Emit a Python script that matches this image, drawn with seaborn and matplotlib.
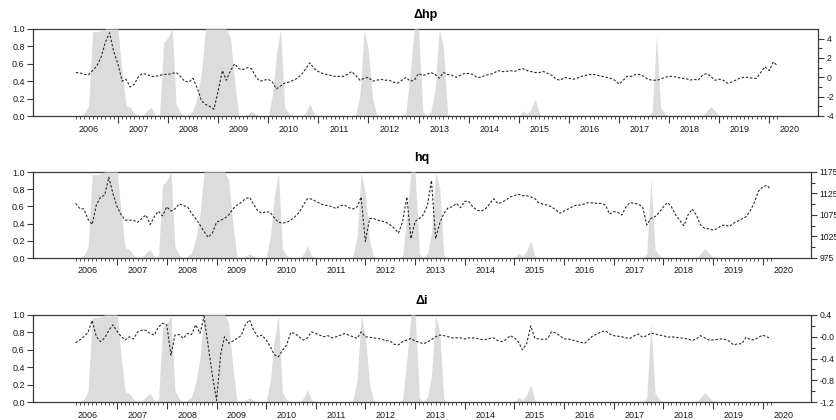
import matplotlib

matplotlib.use("Agg")

import matplotlib.dates as mdates
import matplotlib.pyplot as plt
import numpy as np
import pandas as pd
import seaborn as sns

# monthly sample, 2006M03 - 2020M03
dates = pd.date_range("2006-03-01", "2020-03-01", freq="MS")

# smoothed regime probability (grey area, left axis)
regime_prob = [
    0.0, 0.0, 0.03, 0.12, 0.97, 0.97, 0.98, 1.0, 1.0, 1.0, 1.0, 0.5,
    0.12, 0.1, 0.03, 0.01, 0.01, 0.06, 0.1, 0.01, 0.02, 0.85, 0.9, 1.0,
    0.13, 0.04, 0.0, 0.02, 0.06, 0.22, 0.5, 1.0, 1.0, 1.0, 1.0, 1.0,
    1.0, 0.9, 0.4, 0.0, 0.0, 0.02, 0.05, 0.02, 0.0, 0.0, 0.0, 0.25,
    0.7, 1.0, 0.1, 0.03, 0.0, 0.0, 0.0, 0.04, 0.14, 0.02, 0.0, 0.0,
    0.0, 0.0, 0.0, 0.0, 0.0, 0.0, 0.0, 0.02, 0.25, 1.0, 0.75, 0.2,
    0.02, 0.0, 0.0, 0.0, 0.0, 0.0, 0.0, 0.03, 0.5, 1.0, 1.0, 0.05,
    0.01, 0.05, 0.3, 1.0, 0.8, 0.02, 0.0, 0.0, 0.0, 0.0, 0.0, 0.0,
    0.0, 0.0, 0.0, 0.0, 0.0, 0.0, 0.0, 0.0, 0.0, 0.0, 0.0, 0.06,
    0.02, 0.08, 0.2, 0.02, 0.0, 0.0, 0.0, 0.0, 0.0, 0.0, 0.0, 0.0,
    0.0, 0.0, 0.0, 0.0, 0.0, 0.0, 0.0, 0.0, 0.0, 0.0, 0.0, 0.0,
    0.0, 0.0, 0.0, 0.0, 0.0, 0.0, 0.05, 0.92, 0.1, 0.03, 0.0, 0.0,
    0.0, 0.0, 0.0, 0.0, 0.0, 0.0, 0.0, 0.05, 0.11, 0.06, 0.01, 0.0,
    0.0, 0.0, 0.0, 0.0, 0.0, 0.0, 0.0, 0.0, 0.01, 0.0, 0.0, 0.0,
    0.0,
]

d_hp = [
    0.5, 0.45, 0.3, 0.27, 0.7, 1.2, 2.1, 3.6, 4.6, 2.7, 1.4, -0.4,
    -0.2, -1.0, -0.7, 0.1, 0.4, 0.3, 0.1, 0.1, 0.2, 0.3, 0.3, 0.4,
    0.5, 0.1, -0.4, -0.5, -0.1, -1.1, -2.4, -2.8, -3.0, -3.3, -1.4, 0.7,
    -0.3, 0.7, 1.4, 0.9, 0.8, 1.0, 0.9, 0.1, -0.4, -0.3, -0.2, -0.5,
    -1.2, -0.9, -0.6, -0.5, -0.3, -0.1, 0.3, 0.9, 1.5, 0.9, 0.6, 0.4,
    0.3, 0.2, 0.1, 0.1, 0.1, 0.3, 0.6, 0.2, -0.3, -0.1, 0.0, -0.4,
    -0.3, -0.2, -0.3, -0.3, -0.5, -0.6, -0.3, 0.0, -0.4, -0.3, 0.4, 0.2,
    0.3, 0.5, 0.3, -0.1, 0.5, 0.3, 0.2, 0.0, 0.2, 0.4, 0.4, 0.3,
    0.0, 0.0, 0.2, 0.3, 0.4, 0.7, 0.6, 0.6, 0.7, 0.6, 0.8, 0.9,
    0.7, 0.6, 0.5, 0.5, 0.6, 0.4, 0.2, -0.2, -0.3, 0.0, -0.1, -0.2,
    -0.1, 0.1, 0.2, 0.3, 0.3, 0.2, 0.1, 0.0, -0.1, -0.3, -0.7, -0.3,
    0.1, 0.1, 0.3, 0.3, 0.1, -0.2, -0.3, -0.3, -0.2, 0.0, 0.1, 0.1,
    0.0, -0.1, -0.1, -0.3, -0.2, -0.3, 0.2, 0.4, 0.1, -0.3, -0.2, -0.3,
    -0.6, -0.5, -0.3, -0.1, 0.0, 0.0, -0.1, -0.1, 0.5, 1.1, 0.7, 1.6,
    1.2,
]

hq = [
    1102, 1090, 1089, 1065, 1053, 1098, 1117, 1121, 1163, 1125, 1094, 1075,
    1063, 1063, 1063, 1058, 1067, 1075, 1053, 1071, 1084, 1073, 1094, 1084,
    1089, 1101, 1097, 1094, 1079, 1067, 1052, 1037, 1023, 1033, 1058, 1063,
    1067, 1075, 1089, 1098, 1104, 1113, 1116, 1100, 1084, 1079, 1083, 1081,
    1069, 1058, 1056, 1058, 1063, 1071, 1081, 1098, 1113, 1112, 1107, 1102,
    1098, 1097, 1094, 1090, 1097, 1098, 1092, 1089, 1094, 1117, 1013, 1067,
    1067, 1063, 1061, 1058, 1052, 1044, 1033, 1060, 1117, 1020, 1060, 1067,
    1075, 1097, 1155, 1020, 1056, 1079, 1092, 1094, 1102, 1092, 1107, 1106,
    1094, 1086, 1084, 1089, 1100, 1113, 1102, 1104, 1110, 1117, 1120, 1123,
    1120, 1120, 1117, 1113, 1103, 1100, 1098, 1094, 1087, 1079, 1084, 1089,
    1094, 1098, 1098, 1101, 1104, 1103, 1102, 1102, 1098, 1077, 1083, 1081,
    1075, 1094, 1104, 1102, 1100, 1094, 1052, 1067, 1071, 1081, 1094, 1104,
    1094, 1075, 1063, 1050, 1075, 1089, 1075, 1052, 1044, 1043, 1040, 1043,
    1050, 1052, 1048, 1056, 1061, 1066, 1071, 1084, 1104, 1130, 1140, 1144,
    1135,
]

d_i = [
    -0.11, -0.06, 0.0, 0.08, 0.3, 0.0, -0.09, -0.02, 0.12, 0.22, 0.1, 0.0,
    -0.06, 0.0, -0.04, 0.09, 0.12, 0.12, 0.06, 0.03, 0.18, 0.25, 0.22, -0.34,
    0.03, 0.04, -0.03, 0.06, 0.04, 0.22, 0.06, 0.37, -0.18, -0.7, -1.17, -0.31,
    0.0, -0.12, -0.08, -0.03, 0.02, 0.22, 0.31, 0.12, 0.0, 0.03, -0.06, -0.18,
    -0.33, -0.37, -0.25, -0.15, 0.08, 0.06, 0.0, -0.06, -0.02, 0.09, 0.06, 0.03,
    0.0, 0.02, -0.02, 0.0, 0.03, 0.06, 0.03, 0.0, -0.03, 0.09, 0.0, -0.01,
    -0.02, -0.03, -0.05, -0.07, -0.08, -0.14, -0.15, -0.09, -0.06, -0.03, -0.08, -0.1,
    -0.13, -0.1, -0.05, 0.0, 0.03, 0.02, 0.0, -0.02, -0.02, -0.02, -0.04, -0.02,
    -0.02, -0.03, -0.05, -0.05, -0.03, -0.02, -0.07, -0.09, -0.05, 0.02, -0.02, -0.1,
    -0.24, -0.13, 0.2, -0.03, -0.04, -0.05, -0.04, 0.09, 0.07, 0.02, -0.04, -0.04,
    -0.06, -0.08, -0.1, -0.12, -0.05, 0.02, 0.05, 0.09, 0.11, 0.05, 0.02, 0.01,
    0.0, -0.02, -0.03, 0.02, 0.05, -0.01, 0.02, 0.07, 0.05, 0.03, 0.02, -0.01,
    0.0, -0.01, -0.02, -0.03, -0.04, -0.07, -0.04, 0.02, -0.02, -0.06, -0.06, -0.05,
    -0.04, -0.05, -0.08, -0.15, -0.13, -0.13, -0.01, -0.05, -0.06, -0.01, 0.03, 0.0,
    -0.04,
]

titles = ["Δhp", "hq", "Δi"]
years = list(range(2006, 2021))

FIG_W, FIG_H = 837, 420
FILL = "#dcdcdc"
AXIS = "#3a3a3a"
TEXT = "#1a1a1a"
XLIM = (pd.Timestamp("2005-04-22"), pd.Timestamp("2020-12-22"))


def px_rect(left, top, right, bottom):
    return [left / FIG_W, 1 - bottom / FIG_H, (right - left) / FIG_W, (bottom - top) / FIG_H]


def draw_panel(fig, rect, title, values, ylim, major, minor, labels):
    ax = fig.add_axes(rect)
    ax.fill_between(dates, regime_prob, 0, color=FILL, linewidth=0, zorder=1)
    ax.set_ylim(0, 1)
    ax.set_xlim(*XLIM)

    # x axis: year boundaries long, months short, only inside the sample
    jan = pd.date_range("2007-01-01", "2020-01-01", freq="YS")
    months = [d for d in dates if d.month != 1]
    ax.set_xticks(jan)
    ax.set_xticks(months, minor=True)
    ax.tick_params(axis="x", which="major", length=5, width=0.8, color=AXIS, labelbottom=False)
    ax.tick_params(axis="x", which="minor", length=2.5, width=0.6, color=AXIS)
    for y in years:
        ax.text(mdates.date2num(pd.Timestamp(f"{y}-06-01")), -0.15, str(y),
                transform=ax.get_xaxis_transform(), ha="center", va="center",
                fontsize=6.5, color=TEXT)

    ticks = np.arange(0, 1.01, 0.2)
    ax.set_yticks(ticks)
    ax.set_yticklabels([f"{t:.1f}" for t in ticks])
    ax.tick_params(axis="y", which="major", length=4, width=0.8, color=AXIS,
                   labelsize=6.5, labelcolor=TEXT, pad=2)

    for side in ["left", "bottom", "top"]:
        ax.spines[side].set_color(AXIS)
        ax.spines[side].set_linewidth(0.9)
    ax.spines["top"].set_zorder(0.5)
    ax.spines["right"].set_visible(False)

    ax2 = ax.twinx()
    sns.lineplot(x=dates, y=values, ax=ax2, color="#2a2a2a", linewidth=0.8)
    ax2.lines[0].set_dashes([2.2, 1.6])
    ax2.set_ylim(*ylim)
    ax2.set_yticks(major)
    ax2.set_yticklabels(labels)
    ax2.set_yticks(minor, minor=True)
    ax2.tick_params(axis="y", which="major", length=4, width=0.8, color=AXIS,
                    labelsize=6.2, labelcolor=TEXT, pad=2)
    ax2.tick_params(axis="y", which="minor", length=3, width=0.8, color=AXIS)
    for side in ["left", "bottom", "top"]:
        ax2.spines[side].set_visible(False)
    ax2.spines["right"].set_color(AXIS)
    ax2.spines["right"].set_linewidth(0.9)
    ax2.set_xlabel("")
    ax2.set_ylabel("")
    ax.set_xlabel("")
    ax.set_ylabel("")
    ax.set_xlim(*XLIM)

    ax.set_title(title, fontsize=9, fontweight="bold", color="black", pad=8)
    return ax, ax2


sns.set_style("ticks")
plt.rcParams["font.family"] = ["Liberation Sans", "DejaVu Sans"]

fig = plt.figure(figsize=(FIG_W / 100, FIG_H / 100), dpi=100)

draw_panel(fig, px_rect(33, 29, 818, 116), titles[0], d_hp, (-4, 5),
           [-4, -2, 0, 2, 4], [-3, -1, 1, 3], ["-4", "-2", "0", "2", "4"])
draw_panel(fig, px_rect(33, 172, 811, 258), titles[1], hq, (975, 1175),
           [975, 1025, 1075, 1125, 1175], [1000, 1050, 1100, 1150],
           ["975", "1025", "1075", "1125", "1175"])
draw_panel(fig, px_rect(33, 315, 811, 402), titles[2], d_i, (-1.2, 0.4),
           [-1.2, -0.8, -0.4, 0.0, 0.4], [-1.0, -0.6, -0.2, 0.2],
           ["-1.2", "-0.8", "-0.4", "-0.0", "0.4"])

fig.savefig("out.png", dpi=100)
